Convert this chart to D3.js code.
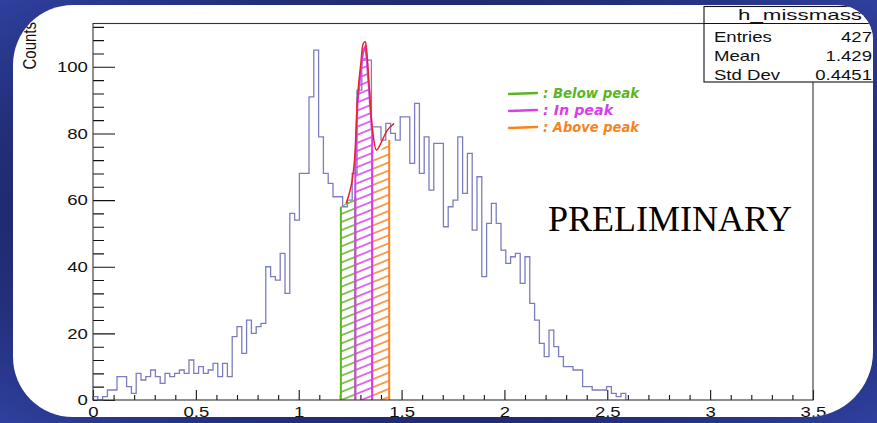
<!DOCTYPE html>
<html>
<head>
<meta charset="utf-8">
<script src="https://cdn.jsdelivr.net/npm/d3@7"></script>
<style>
  body { margin: 0; background: #1d2768; }
  svg { display: block; }
</style>
</head>
<body>
<svg id="chart" width="877" height="423"></svg>
<script>
// histogram h_missmass : 150 bins from 0 to 3.5, counts (bins after 110 are empty)
var histLow = 0;
var histHigh = 3.5;
var histBins = 150;
var counts = [
  1, 0, 1, 3, 3, 7, 7, 4, 2, 8,
  6, 7, 9, 7, 5, 8, 7, 8, 9, 8,
  12, 8, 10, 8, 9, 11, 7, 11, 7, 19,
  22, 14, 24, 20, 22, 23, 40, 37, 36, 44,
  32, 56, 54, 68, 68, 91, 105, 79, 68, 65,
  61, 61, 58, 60, 68, 93, 102, 102, 82, 82,
  78, 83, 80, 78, 85, 85, 71, 89, 68, 79,
  63, 77, 77, 52, 58, 60, 79, 62, 74, 51,
  67, 37, 53, 59, 53, 45, 41, 43, 44, 35,
  43, 29, 24, 17, 13, 21, 16, 13, 10, 10,
  9, 9, 4, 4, 3, 3, 3, 4, 2, 1,
  2
];

var xTicks = [0, 0.5, 1, 1.5, 2, 2.5, 3, 3.5];
var yTicks = [0, 20, 40, 60, 80, 100];

// hand drawn fit over the peak
var fitX = [1.231, 1.254, 1.270, 1.286, 1.302, 1.314, 1.323, 1.330, 1.343, 1.359, 1.378, 1.399, 1.431, 1.464];
var fitY = [59, 64, 71, 91, 101, 107, 107.5, 105, 94, 81, 75, 77, 81, 83];

// shaded regions
var regionNames = ["Below peak", "In peak", "Above peak"];
var belowTopX = [1.205, 1.275];
var belowTopY = [58, 61];
var inTopX = [1.275, 1.286, 1.302, 1.314, 1.323, 1.330, 1.343, 1.357];
var inTopY = [70, 89, 99, 105, 106, 103, 92, 80];
var aboveTopX = [1.357, 1.378, 1.400, 1.440];
var aboveTopY = [75, 73, 75, 78];

var statsTitle = "h_missmass";
var statsLabels = ["Entries", "Mean", "Std Dev"];
var statsValues = ["427", "1.429", "0.4451"];

var regionColors = ["#5bb523", "#d83fe8", "#f5841f"];
var lineColor = "#7c7cc0";
var rootFont = "'Liberation Sans', Arial, Helvetica, sans-serif";
var stretch = 1.28;

var svg = d3.select("#chart");
var defs = svg.append("defs");

// blue slide background
var grad = defs.append("radialGradient").attr("id", "bg")
  .attr("cx", "50%").attr("cy", "50%").attr("r", "75%");
grad.append("stop").attr("offset", "0%").attr("stop-color", "#141c50");
grad.append("stop").attr("offset", "60%").attr("stop-color", "#1d2768");
grad.append("stop").attr("offset", "100%").attr("stop-color", "#3244a8");

svg.append("rect").attr("width", 877).attr("height", 423).attr("fill", "url(#bg)");

// white panel, corners of different size
var panel = "M73,5 H838 A35,35 0 0 1 873,40 V352 A65,65 0 0 1 808,417 H73 " +
  "A60,60 0 0 1 13,357 V65 A60,60 0 0 1 73,5 Z";
defs.append("clipPath").attr("id", "panelClip").append("path").attr("d", panel);
svg.append("path").attr("d", panel).attr("fill", "#ffffff");

regionColors.forEach(function(c, i) {
  var p = defs.append("pattern").attr("id", "hatch" + i)
    .attr("patternUnits", "userSpaceOnUse")
    .attr("width", 12).attr("height", 7.5)
    .attr("patternTransform", "rotate(-22)");
  p.append("line").attr("x1", 0).attr("x2", 12).attr("y1", 3.75).attr("y2", 3.75)
    .attr("stroke", c).attr("stroke-width", 1.5);
});

var g = svg.append("g").attr("clip-path", "url(#panelClip)");

var x = d3.scaleLinear().domain([histLow, histHigh]).range([93, 813]);
var y = d3.scaleLinear().domain([0, 113]).range([400, 23.5]);
var binWidth = (histHigh - histLow) / histBins;

// minor ticks every 0.1 and every 4 counts
var xMinor = [];
for (var i = 1; i < 35; i++) { if (i % 5 !== 0) xMinor.push(i / 10); }
var yMinor = [];
for (var j = 4; j <= 112; j += 4) { if (j % 20 !== 0) yMinor.push(j); }

function styleAxis(sel) {
  sel.select(".domain").remove();
  sel.selectAll(".tick line").attr("stroke", "#111").attr("stroke-width", 1.1);
  sel.selectAll("text").attr("fill", "#111")
    .style("font-family", rootFont).style("font-size", "14.5px")
    .attr("transform", "scale(" + stretch + ",1)");
}

g.append("g").attr("transform", "translate(93,0)")
  .call(d3.axisLeft(y).tickValues(yMinor).tickSize(-11).tickFormat(""))
  .call(styleAxis);
g.append("g").attr("transform", "translate(93,0)")
  .call(d3.axisLeft(y).tickValues(yTicks).tickSize(-22).tickSizeOuter(0).tickPadding(4))
  .call(styleAxis);
g.append("g").attr("transform", "translate(0,400)")
  .call(d3.axisBottom(x).tickValues(xMinor).tickSize(-5).tickFormat(""))
  .call(styleAxis);
g.append("g").attr("transform", "translate(0,400)")
  .call(d3.axisBottom(x).tickValues(xTicks).tickSize(-10).tickSizeOuter(0).tickPadding(7)
    .tickFormat(function(d) { return String(d); }))
  .call(styleAxis);

// histogram outline
var steps = [[histLow, 0]];
counts.forEach(function(c, k) { steps.push([histLow + k * binWidth, c]); });
steps.push([histLow + counts.length * binWidth, counts[counts.length - 1]]);
steps.push([histLow + counts.length * binWidth, 0]);

var stepLine = d3.line().x(function(d) { return x(d[0]); }).y(function(d) { return y(d[1]); })
  .curve(d3.curveStepAfter);
g.append("path").datum(steps).attr("d", stepLine)
  .attr("fill", "none").attr("stroke", lineColor).attr("stroke-width", 1.3);

// hatched regions
var plain = d3.line().x(function(d) { return x(d[0]); }).y(function(d) { return y(d[1]); });
var tops = [[belowTopX, belowTopY], [inTopX, inTopY], [aboveTopX, aboveTopY]];
var order = [0, 2, 1];
order.forEach(function(i) {
  var tx = tops[i][0], ty = tops[i][1];
  var pts = tx.map(function(v, k) { return [v, ty[k]]; });
  var poly = [[tx[0], 0]].concat(pts).concat([[tx[tx.length - 1], 0]]);
  g.append("path").attr("d", plain(poly) + "Z")
    .attr("fill", "url(#hatch" + i + ")").attr("stroke", "none");
  if (i === 1) {
    g.append("path").attr("d", plain(poly))
      .attr("fill", "none").attr("stroke", regionColors[i]).attr("stroke-width", 2);
  } else {
    [0, tx.length - 1].forEach(function(k) {
      g.append("line").attr("x1", x(tx[k])).attr("x2", x(tx[k]))
        .attr("y1", y(0)).attr("y2", y(ty[k]))
        .attr("stroke", regionColors[i]).attr("stroke-width", 2);
    });
  }
});

// fit curve
var fitPts = fitX.map(function(v, k) { return [v, fitY[k]]; });
g.append("path").attr("d", d3.line().x(function(d) { return x(d[0]); }).y(function(d) { return y(d[1]); })
    .curve(d3.curveCatmullRom)(fitPts))
  .attr("fill", "none").attr("stroke", "#e3262b").attr("stroke-width", 1.5);

// frame
g.append("rect").attr("x", 93).attr("y", 23.5).attr("width", 720).attr("height", 376.5)
  .attr("fill", "none").attr("stroke", "#333").attr("stroke-width", 1.1);

// y title
g.append("text").attr("transform", "translate(36,22) scale(" + stretch + ",1) rotate(-90)")
  .attr("text-anchor", "end").style("font-family", rootFont).style("font-size", "15px")
  .attr("fill", "#111").text("Counts");

// stats box
var box = g.append("g");
box.append("rect").attr("x", 704).attr("y", 6.5).attr("width", 200).attr("height", 75.5)
  .attr("fill", "#fff").attr("stroke", "#111").attr("stroke-width", 1.1);
box.append("line").attr("x1", 704).attr("x2", 904).attr("y1", 23.5).attr("y2", 23.5)
  .attr("stroke", "#111").attr("stroke-width", 1.1);
box.append("text").attr("x", 738).attr("y", 19.5)
  .attr("textLength", 124).attr("lengthAdjust", "spacingAndGlyphs")
  .style("font-family", rootFont).style("font-size", "14.5px").attr("fill", "#111")
  .text(statsTitle);
statsLabels.forEach(function(lab, k) {
  var by = 41.5 + k * 19;
  box.append("text").attr("transform", "translate(714," + by + ") scale(" + stretch + ",1)")
    .style("font-family", rootFont).style("font-size", "14.5px").attr("fill", "#111").text(lab);
  box.append("text").attr("transform", "translate(872," + by + ") scale(" + stretch + ",1)")
    .attr("text-anchor", "end")
    .style("font-family", rootFont).style("font-size", "14.5px").attr("fill", "#111").text(statsValues[k]);
});

// handwritten legend
var legendY = [94, 111, 128];
regionNames.forEach(function(name, i) {
  g.append("line").attr("x1", 509).attr("x2", 537).attr("y1", legendY[i]).attr("y2", legendY[i] - 1)
    .attr("stroke", regionColors[i]).attr("stroke-width", 2.4).attr("stroke-linecap", "round");
  g.append("text").attr("x", 543).attr("y", legendY[i] + 4)
    .style("font-family", "'DejaVu Sans', sans-serif").style("font-style", "italic")
    .style("font-size", "14.5px").style("font-weight", "bold").attr("fill", regionColors[i])
    .attr("textLength", name.length * 8.6 + 10).attr("lengthAdjust", "spacingAndGlyphs")
    .text(": " + name);
});

g.append("text").attr("x", 548).attr("y", 231)
  .style("font-family", "'Liberation Serif', 'Times New Roman', serif").style("font-size", "36px")
  .attr("fill", "#000").text("PRELIMINARY");
</script>
</body>
</html>
